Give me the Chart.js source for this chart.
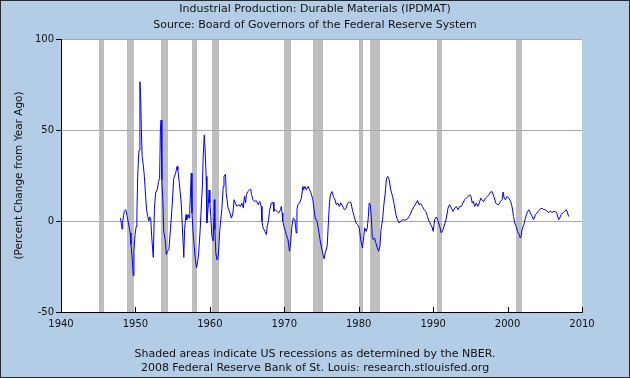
<!DOCTYPE html>
<html><head><meta charset="utf-8">
<script src="https://cdn.jsdelivr.net/npm/chart.js@4.4.1/dist/chart.umd.min.js"></script>
<style>html,body{margin:0;padding:0;background:#B4CDE6;overflow:hidden}canvas{display:block}</style>
</head><body>
<canvas id="c" width="630" height="378"></canvas>
<script>
const titleLines = ['Industrial Production: Durable Materials (IPDMAT)', 'Source: Board of Governors of the Federal Reserve System'];
const footerLines = ['Shaded areas indicate US recessions as determined by the NBER.', '2008 Federal Reserve Bank of St. Louis: research.stlouisfed.org'];
const yAxisTitle = '(Percent Change from Year Ago)';
const xMin = 1940, xMax = 2010, xStep = 10;
const yMin = -50, yMax = 100, yStep = 50;

const years = [
1948.0,1948.2,1948.3,1948.5,1948.7,1948.8,1949.05,1949.3,1949.4,1949.55,1949.7,1949.8,1949.95,
1950.1,1950.2,1950.3,1950.44,1950.5,1950.6,1950.7,1950.8,1950.9,1951.05,1951.2,1951.4,1951.5,1951.65,1951.8,1951.9,
1952.05,1952.2,1952.4,1952.55,1952.7,1952.95,1953.1,1953.25,1953.35,1953.45,1953.55,1953.7,1953.8,
1954.0,1954.15,1954.3,1954.5,1954.7,1954.9,1955.15,1955.4,1955.6,1955.7,1955.9,
1956.15,1956.3,1956.5,1956.6,1956.8,1956.9,1957.1,1957.2,1957.3,1957.4,1957.5,1957.6,1957.75,1957.9,
1958.05,1958.2,1958.35,1958.5,1958.7,1958.9,1959.0,1959.1,1959.25,1959.35,1959.5,1959.6,1959.75,1959.9,
1960.0,1960.13,1960.27,1960.45,1960.6,1960.67,1960.8,1960.94,1961.07,1961.2,1961.34,1961.47,1961.6,1961.8,1961.9,
1962.1,1962.2,1962.45,1962.7,1962.9,1963.1,1963.26,1963.4,1963.66,1963.9,1964.1,1964.3,1964.5,1964.64,1964.8,1964.9,
1965.1,1965.35,1965.5,1965.6,1965.8,1966.0,1966.25,1966.5,1966.7,1966.9,1967.0,1967.15,1967.4,1967.6,1967.7,1967.9,
1968.0,1968.26,1968.5,1968.6,1968.8,1969.0,1969.25,1969.5,1969.6,1969.7,1969.8,
1970.0,1970.27,1970.5,1970.7,1970.85,1971.0,1971.2,1971.43,1971.6,1971.7,1971.83,
1972.05,1972.3,1972.5,1972.6,1972.77,1972.95,1973.2,1973.4,1973.6,1973.84,
1974.0,1974.15,1974.4,1974.6,1974.8,1975.0,1975.2,1975.35,1975.5,1975.76,1975.9,
1976.07,1976.2,1976.4,1976.6,1976.8,1977.0,1977.2,1977.4,1977.6,1977.85,
1978.07,1978.3,1978.5,1978.74,1978.96,1979.2,1979.4,1979.63,1979.85,
1980.08,1980.26,1980.4,1980.5,1980.66,1980.8,1981.0,1981.15,1981.3,1981.4,1981.55,1981.7,1981.82,1981.95,
1982.13,1982.3,1982.5,1982.67,1982.85,1983.0,1983.2,1983.4,1983.56,1983.74,1983.9,
1984.1,1984.3,1984.55,1984.77,1985.0,1985.2,1985.44,1985.66,1985.9,
1986.1,1986.33,1986.55,1986.77,1987.0,1987.2,1987.45,1987.67,1987.9,
1988.1,1988.34,1988.56,1988.8,1989.0,1989.23,1989.45,1989.68,1989.9,
1990.0,1990.2,1990.44,1990.66,1990.88,1991.1,1991.33,1991.6,1991.77,
1992.0,1992.2,1992.45,1992.67,1992.9,1993.1,1993.34,1993.56,1993.78,
1994.0,1994.23,1994.45,1994.68,1994.94,1995.08,1995.25,1995.4,1995.57,1995.8,
1996.0,1996.2,1996.4,1996.6,1996.8,1997.04,1997.27,1997.5,1997.7,1997.9,
1998.16,1998.4,1998.6,1998.83,1999.05,1999.27,1999.4,1999.54,1999.7,1999.95,
2000.17,2000.4,2000.6,2000.8,2000.97,2001.15,2001.33,2001.5,2001.7,2001.82,2001.95,
2002.18,2002.4,2002.6,2002.85,2003.07,2003.3,2003.5,2003.74,2003.96,
2004.2,2004.4,2004.63,2004.85,2005.08,2005.3,2005.5,2005.75,2005.97,
2006.2,2006.4,2006.6,2006.86,2007.0,2007.2,2007.4,2007.67,2007.85,2008.0,2008.2
];
const values = [
1.6,-4.4,0,5.3,6.2,4.4,-1,-6.6,-13,-19.3,-30,-16.6,-7.5,
-3,3.5,24.5,37,39,76.5,68,50,35.4,31,24.5,11.7,6.2,2.5,0,2.2,
1.6,-9.3,-20,6.2,15.3,17.5,21.7,23.5,50,55.5,22.6,9.9,-5.7,
-10.2,-18.4,-16.6,-15.7,-4.7,6.2,23.5,26.3,30,28,20.8,
9.9,-3,-20,-4.7,3.5,0.7,3.5,1.6,6.2,15.7,26.3,4.4,-6.6,-13.9,
-21.2,-25.7,-23,-17.5,-4.7,12,19,35.4,47.3,40,24.5,-1.1,6.2,17,
9.9,2.5,-8.4,-11,11.7,-4.7,-17.5,-21.2,-21.2,-14.8,-4.7,0.7,6.2,19,24.5,
25.7,15.3,7.1,4.4,1.6,4.4,11.7,9.9,8,9,8,9.9,7.1,13.5,9.9,14.4,
16.2,17.2,17.5,14.4,11.7,10.8,11.1,9,10.8,8,0,-3.8,-5.7,-7.5,-3,0.7,
5.3,9.9,10.2,5.3,6.2,5.3,4.4,6.2,8,4.4,0,
-3.8,-7.5,-10.2,-16.6,-12,-3.8,1.6,0.7,-6.6,6.2,9,
9.9,12.6,19,17.2,19,17.2,19,17.2,15.3,11.7,
6.2,1.6,0,-4.7,-10.2,-14.8,-18.4,-20.8,-17.5,-13.9,-3,
9.9,14.4,16.2,13.5,11.7,9,9.9,8,10,8,
6.2,7,9.5,10.5,9.9,5.3,2.5,-1.1,-2,
-3.8,-10.2,-13,-14.8,-9.3,-3.8,-5.7,-3.8,2.5,9.9,9,1.6,-8.4,-10.2,
-9.3,-12,-14.8,-16.6,-13.9,-4.7,0.7,9.9,15.3,23.5,24.5,
22.6,17.2,13.5,9,3.5,0.7,-1.1,0,0.7,
0.4,0.7,1.1,2.5,4.4,6.2,8,9.5,11.3,
9,9.5,8,6.2,5.3,2.5,0,-2,-3.8,
-5.7,0.7,2.2,0,-3,-6.6,-4.7,-1.1,1.6,
7.1,9,7.1,5.3,7.1,8,6.2,8,8,
9.9,11.7,12.6,13.5,14.4,13.5,9.9,10.8,8,9.9,
8,9.9,12.6,11.3,10.8,12.6,13.5,14.4,15.9,16.2,
13.5,9.9,9,9,10.8,11.7,15.9,12.6,11.7,13.5,
12.6,10.8,8,2.5,-1.1,-3,-5.7,-6.9,-9.3,-8.4,-4.7,
-2,1.6,4.4,6.2,4.4,2.5,0.7,3.5,4.4,
5.8,6.6,7.1,6.2,6.2,5.3,4.7,5.3,4.7,
5.3,5.3,4.4,0.7,1.6,3.5,4.4,5.3,6.2,5.3,2.5
];
const recessionStarts = [1945.083,1948.833,1953.5,1957.583,1960.25,1969.917,1973.833,1980.0,1981.5,1990.5,2001.167];
const recessionEnds   = [1945.833,1949.833,1954.417,1958.333,1961.167,1970.917,1975.25,1980.583,1982.917,1991.25,2001.917];

const FONT = '"DejaVu Sans", Verdana, sans-serif';
const TEXT = '#111111';

const points = years.map((y, i) => ({x: y, y: values[i]}));

const fredPlugin = {
  id: 'fred',
  beforeDraw(chart) {
    const {ctx, chartArea: a, scales: {x}} = chart;
    ctx.save();
    ctx.fillStyle = '#B4CDE6';
    ctx.fillRect(0, 0, chart.width, chart.height);
    ctx.fillStyle = '#FFFFFF';
    ctx.fillRect(a.left, a.top, a.right - a.left, a.bottom - a.top);
    ctx.fillStyle = '#BEBEBE';
    for (let i = 0; i < recessionStarts.length; i++) {
      const x0 = Math.round(x.getPixelForValue(recessionStarts[i]));
      const x1 = Math.round(x.getPixelForValue(recessionEnds[i]));
      ctx.fillRect(x0, a.top, Math.max(1, x1 - x0), a.bottom - a.top);
    }
    ctx.restore();
  },
  afterDraw(chart) {
    const {ctx, chartArea: a, scales: {x}} = chart;
    ctx.save();
    ctx.strokeStyle = '#000';
    ctx.lineWidth = 1;
    ctx.beginPath();
    x.ticks.forEach(t => {
      const px = Math.round(x.getPixelForValue(t.value)) + 0.5;
      ctx.moveTo(px, a.bottom);
      ctx.lineTo(px, a.bottom - 5);
    });
    ctx.stroke();
    ctx.fillStyle = TEXT;
    ctx.font = '11px ' + FONT;
    ctx.textAlign = 'center';
    ctx.textBaseline = 'middle';
    const cx = chart.width / 2;
    ctx.fillText(titleLines[0], cx, 9);
    ctx.fillText(titleLines[1], cx, 25);
    ctx.fillText(footerLines[0], cx, 354);
    ctx.fillText(footerLines[1], cx, 368);
    ctx.strokeStyle = '#2a2a2a';
    ctx.strokeRect(0.5, 0.5, chart.width - 1, chart.height - 1);
    ctx.restore();
  }
};

new Chart(document.getElementById('c'), {
  type: 'line',
  data: {
    datasets: [{
      data: points,
      borderColor: '#0000FF',
      borderWidth: 1,
      pointRadius: 0,
      tension: 0,
      fill: false
    }]
  },
  options: {
    responsive: false,
    animation: false,
    devicePixelRatio: 1,
    layout: {padding: {left: 0, right: 48, top: 39, bottom: 0}},
    plugins: {legend: {display: false}, tooltip: {enabled: false}, title: {display: false}},
    scales: {
      x: {
        type: 'linear', min: xMin, max: xMax,
        afterFit(s) { s.height = 66; },
        ticks: {stepSize: xStep, padding: 6, color: TEXT, font: {family: FONT, size: 10},
                callback: v => String(v), maxRotation: 0, autoSkip: false},
        grid: {display: false, drawTicks: false},
        border: {display: true, color: '#000', width: 1}
      },
      y: {
        min: yMin, max: yMax,
        afterFit(s) { s.width = 61; },
        ticks: {stepSize: yStep, padding: 2, color: TEXT, font: {family: FONT, size: 10},
                callback: v => String(v)},
        grid: {
          color: c => (c.tick && c.tick.value === yMin) ? 'rgba(0,0,0,0)' : '#A8A8A8',
          tickColor: '#000', tickLength: 5, drawTicks: true
        },
        border: {display: true, color: '#000', width: 1},
        title: {display: true, text: yAxisTitle, color: TEXT, font: {family: FONT, size: 10.5},
                padding: {top: 13, bottom: 0}}
      }
    }
  },
  plugins: [fredPlugin]
});
</script>
</body></html>
